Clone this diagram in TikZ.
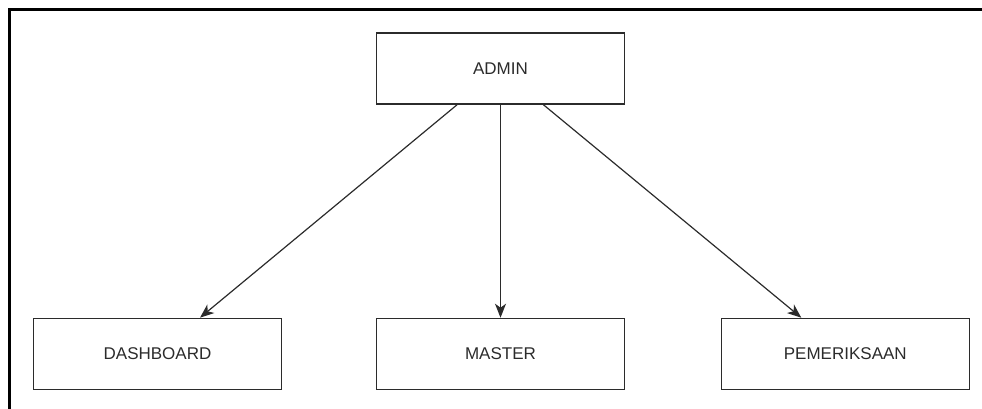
\documentclass[tikz,border=0pt]{standalone}
\usepackage{fontspec}
\setmainfont{Liberation Sans}
\usetikzlibrary{arrows.meta}
\definecolor{ink}{HTML}{2B2B2B}
\tikzset{
  menubox/.style={draw=ink, line width=1.6pt, minimum width=248pt, minimum height=71pt,
    inner sep=0pt, text=ink, font=\fontsize{17}{20}\selectfont},
  link/.style={draw=ink, line width=1.2pt,
    -{Stealth[length=14pt, width=11pt, inset=4pt]}}
}
\begin{document}
\begin{tikzpicture}[x=1pt, y=-1pt]
  \useasboundingbox (0,0) rectangle (982,408);
  % frame: top and left edges only
  \draw[line width=3pt, line cap=rect] (982,9.5) -- (9.5,9.5) -- (9.5,408);
  % menu boxes
  \node[menubox] (admin) at (500.5,68.5) {ADMIN};
  \node[menubox] (dash)  at (157.5,354) {DASHBOARD};
  \node[menubox] (master) at (500.5,354) {MASTER};
  \node[menubox] (periksa) at (845.3,354) {PEMERIKSAAN};
  % links from the admin box
  \draw[link] ([xshift=-43.5pt]admin.south) -- ([xshift=42.5pt]dash.north);
  \draw[link] (admin.south) -- (master.north);
  \draw[link] ([xshift=43pt]admin.south) -- ([xshift=-44pt]periksa.north);
\end{tikzpicture}
\end{document}
